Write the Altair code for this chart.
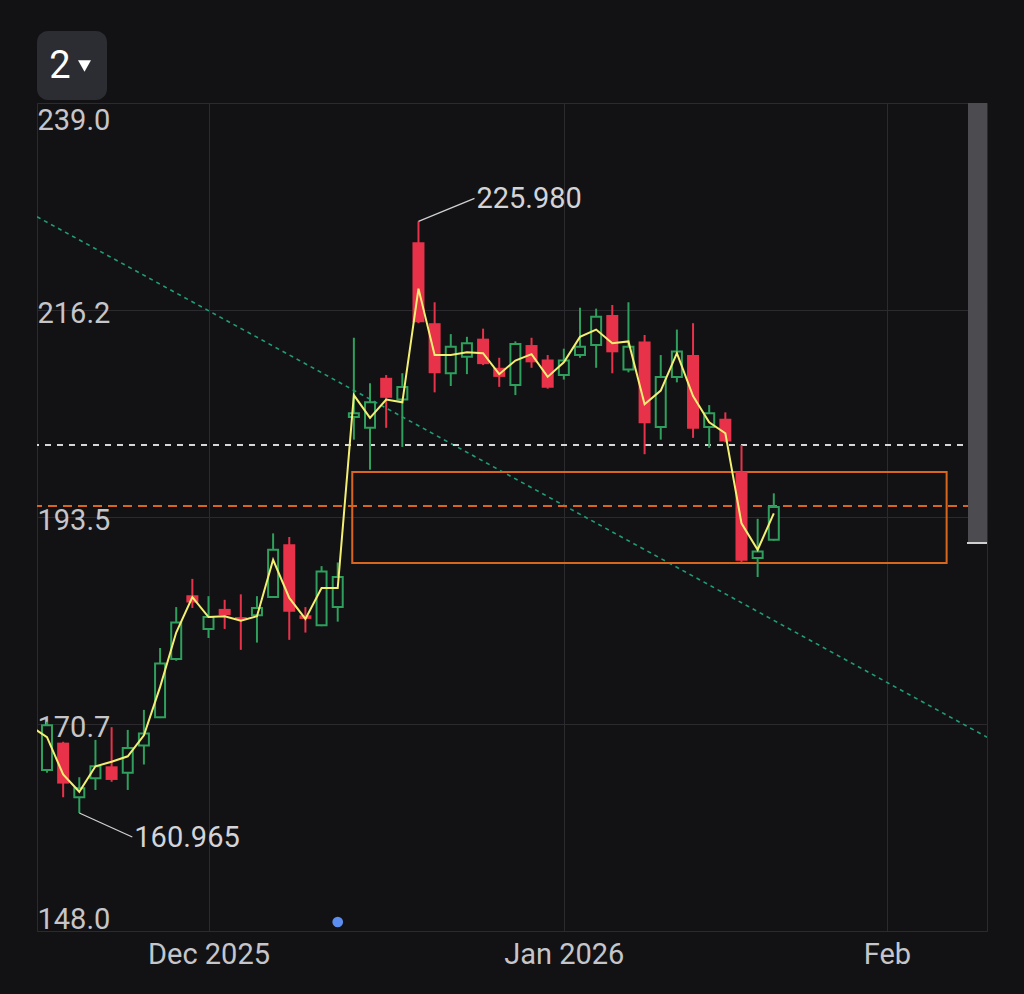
import altair as alt
import pandas as pd

# ---------------- data ----------------
candle_idx = list(range(1, 47))
opens = [165.7, 168.7, 162.7, 164.8, 166.1, 165.4, 168.4, 171.5, 177.9, 184.9,
         181.2, 183.4, 182.5, 182.7, 184.7, 190.5, 182.7, 181.6, 183.6, 204.5,
         203.3, 208.8, 206.4, 223.7, 214.8, 209.3, 211.1, 213.1, 209.9, 208.0,
         212.4, 210.8, 209.1, 211.3, 212.4, 215.7, 209.7, 212.8, 203.4, 208.9,
         211.3, 203.4, 204.3, 198.5, 189.0, 191.0]
highs = [171.0, 168.8, 164.9, 169.0, 170.4, 170.1, 172.3, 179.1, 183.6, 186.7,
         184.8, 184.4, 185.0, 184.8, 191.7, 191.3, 183.6, 188.1, 188.5, 213.2,
         208.2, 209.1, 209.3, 225.98, 217.1, 213.6, 213.3, 214.2, 211.0, 212.8,
         213.2, 211.3, 212.0, 216.5, 216.4, 216.8, 217.1, 213.5, 211.3, 214.1,
         214.8, 205.8, 205.0, 201.4, 193.3, 196.1]
lows = [165.4, 162.7, 160.965, 163.5, 164.4, 163.5, 166.3, 171.4, 177.7, 183.5,
        180.2, 181.2, 178.9, 179.7, 184.6, 180.0, 180.8, 181.5, 182.0, 202.0,
        198.7, 203.3, 201.2, 214.8, 207.2, 207.9, 209.2, 210.2, 207.8, 206.9,
        209.9, 207.6, 208.6, 211.0, 209.9, 209.3, 209.4, 200.4, 202.0, 208.3,
        202.2, 201.1, 201.7, 188.5, 186.9, 190.9]
closes = [170.6, 164.2, 163.7, 166.1, 164.6, 168.1, 169.7, 177.4, 181.9, 184.1,
          182.5, 182.7, 182.2, 183.5, 189.9, 183.1, 182.3, 187.5, 186.9, 204.9,
          206.1, 206.6, 207.8, 214.9, 209.3, 212.2, 212.6, 210.3, 208.9, 212.5,
          210.5, 207.7, 210.7, 212.2, 215.5, 211.6, 212.2, 203.8, 208.9, 211.7,
          203.2, 204.9, 201.8, 188.7, 189.7, 194.6]

line_idx = list(range(0, 47))
line_vals = [170.5, 169.3, 165.2, 163.3, 166.1, 166.6, 167.2, 169.5, 174.8, 180.8,
             184.7, 182.5, 182.6, 182.1, 182.6, 188.8, 184.6, 182.3, 185.7, 185.7,
             206.9, 204.4, 206.4, 206.1, 218.6, 211.3, 211.3, 211.6, 211.5, 209.2,
             210.7, 211.4, 208.9, 210.5, 213.3, 214.1, 212.6, 212.8, 205.9, 207.4,
             211.5, 206.8, 203.9, 202.7, 192.8, 189.9, 193.9]

trend_idx = [0.381, 59.2]
trend_vals = [226.5, 169.3]

white_level = [201.4]
orange_level = [194.7]

box_x1 = [19.9]
box_x2 = [56.7]
box_y1 = [188.45]
box_y2 = [198.45]

high_mark_idx = [24]
high_mark_val = [225.98]
high_mark_text = ["225.980"]
low_mark_idx = [3]
low_mark_val = [160.965]
low_mark_text = ["160.965"]

event_idx = [19]

x_tick_idx = [11, 33, 53]
x_tick_labels = ["Dec 2025", "Jan 2026", "Feb"]
y_ticks = [148.0, 170.75, 193.5, 216.25, 239.0]

X_MIN, X_MAX = 0.381, 59.2
Y_MIN, Y_MAX = 148.0, 239.0

# ---------------- styles ----------------
BG = "#121214"
GRID = "#2a2a2f"
LABEL = "#c6c6ca"
GREEN = "#2e9f5c"
RED = "#e8324a"
YELLOW = "#f3ef72"
ORANGE = "#d8661e"
TEAL = "#1f9c78"
FONT = "Roboto"

W, H = 950, 828

candles = pd.DataFrame({"i": candle_idx, "open": opens, "high": highs,
                        "low": lows, "close": closes})
candles["dir"] = ["up" if c >= o else "down" for o, c in zip(opens, closes)]
up = candles[candles["dir"] == "up"]
down = candles[candles["dir"] == "down"]

xs = alt.Scale(domain=[X_MIN, X_MAX], nice=False, zero=False, padding=0)
ys = alt.Scale(domain=[Y_MIN, Y_MAX], nice=False, zero=False, padding=0)

x_label_expr = " : ".join(
    [f"datum.value == {v} ? '{t}'" for v, t in zip(x_tick_idx[:-1], x_tick_labels[:-1])]
) + f" : '{x_tick_labels[-1]}'"

x_axis = alt.Axis(values=x_tick_idx, labelExpr=x_label_expr, grid=True,
                  gridColor=GRID, gridWidth=1, ticks=False, domain=False,
                  labelFontSize=29, labelColor=LABEL, labelFont=FONT,
                  labelPadding=9, title=None, labelFlush=False)
y_axis = alt.Axis(values=y_ticks,
                  labelExpr="format(floor(datum.value*10+0.001)/10, '.1f')",
                  grid=True, gridColor=GRID, gridWidth=1, ticks=False,
                  domain=False, labelFontSize=29, labelColor=LABEL,
                  labelFont=FONT, labelAlign="left",
                  labelPadding=0, labelFlush=True, labelOffset=3, title=None)


def X(field):
    return alt.X(field, scale=xs, axis=x_axis, title=None)


def Y(field):
    return alt.Y(field, scale=ys, axis=y_axis, title=None)


one = pd.DataFrame({"a": [0]})

trend = alt.Chart(pd.DataFrame({"i": trend_idx, "v": trend_vals})).mark_line(
    color=TEAL, strokeWidth=1.6, strokeDash=[4, 4], clip=True
).encode(x=X("i:Q"), y=Y("v:Q"))

white_line = alt.Chart(pd.DataFrame({"v": white_level})).mark_rule(
    color="#d6d6d6", strokeWidth=2, strokeDash=[6, 6]
).encode(y=Y("v:Q"))

orange_line = alt.Chart(pd.DataFrame({"v": orange_level})).mark_rule(
    color=ORANGE, strokeWidth=2, strokeDash=[9, 6]
).encode(y=Y("v:Q"))

box = alt.Chart(pd.DataFrame({"x1": box_x1, "x2": box_x2, "y1": box_y1, "y2": box_y2})).mark_rect(
    fillOpacity=0, stroke=ORANGE, strokeWidth=2
).encode(x=X("x1:Q"), x2="x2:Q", y=Y("y1:Q"), y2="y2:Q")

wicks_up = alt.Chart(up).mark_rule(color=GREEN, strokeWidth=2).encode(
    x=X("i:Q"), y=Y("low:Q"), y2="high:Q")
wicks_down = alt.Chart(down).mark_rule(color=RED, strokeWidth=2).encode(
    x=X("i:Q"), y=Y("low:Q"), y2="high:Q")

bodies_up = alt.Chart(up).mark_bar(size=10, fill=BG, stroke=GREEN,
                                   strokeWidth=2, orient="vertical").encode(
    x=X("i:Q"), y=Y("open:Q"), y2="close:Q")
bodies_down = alt.Chart(down).mark_bar(size=12, color=RED,
                                       orient="vertical").encode(
    x=X("i:Q"), y=Y("open:Q"), y2="close:Q")

avg_line = alt.Chart(pd.DataFrame({"i": line_idx, "v": line_vals})).mark_line(
    color=YELLOW, strokeWidth=2, clip=True
).encode(x=X("i:Q"), y=Y("v:Q"))

hi_df = pd.DataFrame({"i": high_mark_idx, "v": high_mark_val, "t": high_mark_text})
lo_df = pd.DataFrame({"i": low_mark_idx, "v": low_mark_val, "t": low_mark_text})

hi_rule = alt.Chart(hi_df).mark_rule(color="#d0d0d0", strokeWidth=1.3,
                                     x2Offset=56, y2Offset=-23).encode(
    x=X("i:Q"), x2="i:Q", y=Y("v:Q"), y2="v:Q")
hi_text = alt.Chart(hi_df).mark_text(align="left", baseline="middle", dx=58, dy=-22,
                                     fontSize=29, font=FONT, color="#d4d4d8").encode(
    x=X("i:Q"), y=Y("v:Q"), text="t:N")
lo_rule = alt.Chart(lo_df).mark_rule(color="#d0d0d0", strokeWidth=1.3,
                                     x2Offset=53, y2Offset=24).encode(
    x=X("i:Q"), x2="i:Q", y=Y("v:Q"), y2="v:Q")
lo_text = alt.Chart(lo_df).mark_text(align="left", baseline="middle", dx=55, dy=25,
                                     fontSize=29, font=FONT, color="#d4d4d8").encode(
    x=X("i:Q"), y=Y("v:Q"), text="t:N")

event = alt.Chart(pd.DataFrame({"i": event_idx})).mark_circle(
    size=115, color="#5b8ef0", opacity=1).encode(x=X("i:Q"), y=alt.value(819))

# right-side price bar
side_bar = alt.Chart(one).mark_rect(color="#4b4b50").encode(
    x=alt.value(931), x2=alt.value(950), y=alt.value(0), y2=alt.value(440))
side_tick = alt.Chart(one).mark_rule(color="#d0d0d0", strokeWidth=2).encode(
    x=alt.value(930), x2=alt.value(950), y=alt.value(440))

# "2" selector button
btn = alt.Chart(one).mark_rect(color="#2b2d32", cornerRadius=11).encode(
    x=alt.value(0), x2=alt.value(70), y=alt.value(-72), y2=alt.value(-3))
btn_text = alt.Chart(pd.DataFrame({"t": ["2"]})).mark_text(
    fontSize=38, font=FONT, color="#ffffff", align="center", baseline="middle").encode(
    x=alt.value(23), y=alt.value(-36), text="t:N")
btn_tri = alt.Chart(one).mark_point(shape="triangle-down", filled=True, size=170,
                                    color="#ffffff", opacity=1).encode(
    x=alt.value(47.5), y=alt.value(-37))

chart = alt.layer(
    trend, white_line, orange_line, box,
    wicks_up, wicks_down, bodies_up, bodies_down, avg_line,
    hi_rule, hi_text, lo_rule, lo_text, event, side_bar, side_tick,
    btn, btn_text, btn_tri,
).properties(
    width=W, height=H, background=BG,
    padding={"left": 37, "top": 103, "right": 37, "bottom": 63},
    autosize=alt.AutoSizeParams(type="none"),
).configure_view(stroke=GRID, strokeWidth=1, fill=BG)

chart.save("out.html", embed_options={"renderer": "svg", "actions": False})
